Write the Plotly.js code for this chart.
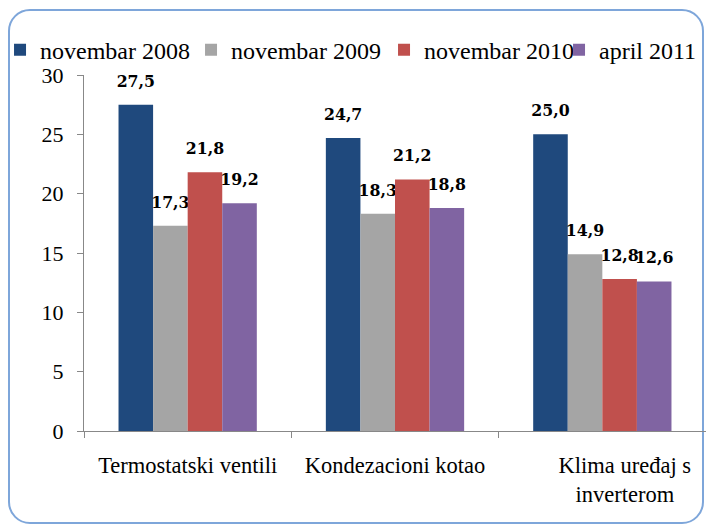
<!DOCTYPE html>
<html>
<head>
<meta charset="utf-8">
<script src="https://cdn.plot.ly/plotly-3.0.1.min.js"></script>
<style>
  body { margin: 0; background: #fff; }
  #frame { position: absolute; left: 8px; top: 9px; width: 692px; height: 511px;
           border: 2px solid #7ea6da; border-radius: 22px; }
  #chart { position: absolute; left: 0; top: 0; width: 706px; height: 527px; }
</style>
</head>
<body>
<div id="frame"></div>
<div id="chart"></div>
<script>
// categories and series
// the third label sits a bit right of its group in the original, hence the padding
var pad = '\u00a0\u00a0\u00a0\u00a0\u00a0\u00a0\u00a0\u00a0';
var categories = ['Termostatski ventili', 'Kondezacioni kotao',
  pad + 'Klima uređaj s<br>' + pad + 'inverterom'];
var seriesNames = ['novembar 2008', 'novembar 2009', 'novembar 2010', 'april 2011'];
var nov2008 = [27.5, 24.7, 25.0];
var nov2009 = [17.3, 18.3, 14.9];
var nov2010 = [21.8, 21.2, 12.8];
var apr2011 = [19.2, 18.8, 12.6];
var colors = ['#1f497d', '#a5a5a5', '#c0504d', '#8064a2'];
var legendWidths = [146, 148, 130, 100];

// decimal comma, plus a small blank line so the label sits higher above the bar
function fmt(v) {
  return '<span style="font-size:17.5px">' + v.toFixed(1).replace('.', ',') +
    '</span><br>\u00a0';
}

var values = [nov2008, nov2009, nov2010, apr2011];
var data = values.map(function (vals, i) {
  return {
    type: 'bar',
    name: seriesNames[i],
    x: categories,
    y: vals,
    text: vals.map(fmt),
    textposition: 'outside',
    constraintext: 'none',
    cliponaxis: false,
    textfont: { family: 'DejaVu Serif Condensed, DejaVu Serif', size: 10, color: '#000', weight: 'bold' },
    marker: { color: colors[i] },
    legendwidth: legendWidths[i],
    hoverinfo: 'none'
  };
});

var layout = {
  width: 706,
  height: 527,
  margin: { l: 84, r: 0, t: 75, b: 96 },
  paper_bgcolor: 'rgba(0,0,0,0)',
  plot_bgcolor: 'rgba(0,0,0,0)',
  barmode: 'group',
  bargap: 0.333,
  bargroupgap: 0,
  font: { family: 'Liberation Serif', color: '#000', size: 22 },
  showlegend: true,
  legend: {
    orientation: 'h',
    x: -0.135, xanchor: 'left',
    y: 1.07, yanchor: 'middle',
    font: { family: 'Liberation Serif', size: 24, color: '#000' },
    itemwidth: 30,
    traceorder: 'normal'
  },
  xaxis: {
    type: 'category',
    showline: true,
    linecolor: '#888',
    linewidth: 1,
    ticks: 'outside',
    tickson: 'boundaries',
    ticklen: 6,
    tickcolor: '#888',
    showgrid: false,
    ticklabelstandoff: 14,
    tickfont: { family: 'Liberation Serif', size: 22.5, color: '#000' }
  },
  yaxis: {
    range: [0, 30],
    dtick: 5,
    showline: true,
    linecolor: '#888',
    linewidth: 1,
    ticks: 'outside',
    ticklen: 6,
    tickcolor: '#888',
    showgrid: false,
    zeroline: false,
    ticklabelstandoff: 9,
    tickfont: { family: 'Liberation Serif', size: 22, color: '#000' }
  }
};

Plotly.newPlot('chart', data, layout, { staticPlot: true });
</script>
</body>
</html>
